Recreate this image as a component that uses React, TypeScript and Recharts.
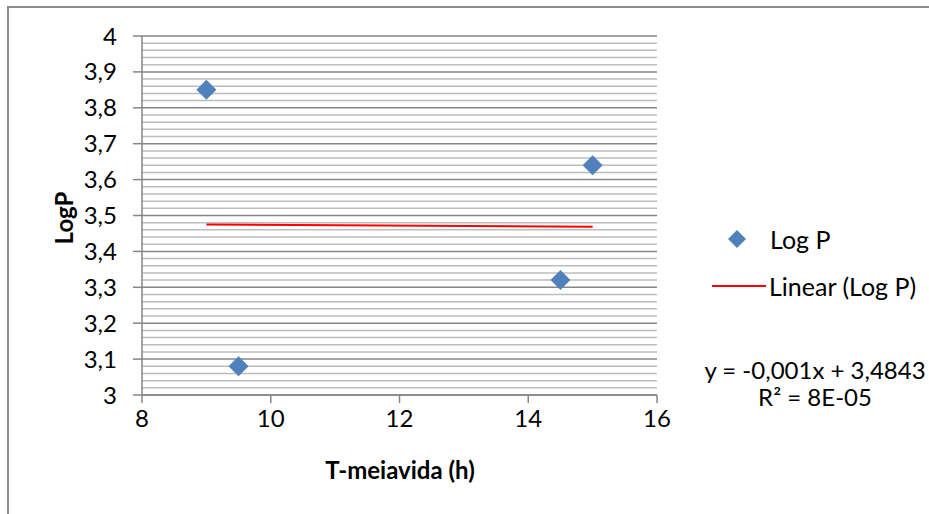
import {
  CartesianGrid,
  ComposedChart,
  Line,
  Scatter,
  XAxis,
  YAxis,
} from "recharts";

// scatter points
const halfLife = [9, 9.5, 14.5, 15];
const logP = [3.85, 3.08, 3.32, 3.64];

// trendline end points (x = 9 and x = 15)
const trendX = [9, 15];
const trendY = [3.475, 3.469];

const xTicks = [8, 10, 12, 14, 16];
const yTicks = [3, 3.1, 3.2, 3.3, 3.4, 3.5, 3.6, 3.7, 3.8, 3.9, 4];
const yMinorTicks = [
  3.02, 3.04, 3.06, 3.08, 3.12, 3.14, 3.16, 3.18, 3.22, 3.24, 3.26, 3.28,
  3.32, 3.34, 3.36, 3.38, 3.42, 3.44, 3.46, 3.48, 3.52, 3.54, 3.56, 3.58,
  3.62, 3.64, 3.66, 3.68, 3.72, 3.74, 3.76, 3.78, 3.82, 3.84, 3.86, 3.88,
  3.92, 3.94, 3.96, 3.98,
];

const FONT = "Lato, 'Open Sans', sans-serif";
const BLUE = "#4f81bd";
const AXIS = "#868686";

const points = halfLife.map((x, i) => ({ x, y: logP[i] }));
const trend = trendX.map((x, i) => ({ x, y: trendY[i] }));

const Diamond = (props: any) => {
  const { cx, cy } = props;
  const r = 10;
  return (
    <polygon
      points={`${cx},${cy - r} ${cx + r},${cy} ${cx},${cy + r} ${cx - r},${cy}`}
      fill={BLUE}
    />
  );
};

const scaleOf = (axis: any) => {
  const s = axis?.scale;
  if (typeof s === "function") return s;
  if (s && typeof s.map === "function") return (v: number) => s.map(v);
  return null;
};

const gridFor = (values: number[]) => (props: any) => {
  const scale = scaleOf(props.yAxis);
  if (scale) return values.map((v) => scale(v));
  // fallback: linear map over the plot box
  const { offset } = props;
  return values.map((v) => offset.top + ((4 - v) / 1) * offset.height);
};

export default function App() {
  return (
    <div
      style={{
        position: "absolute",
        left: 0,
        top: 0,
        width: 929,
        height: 514,
        background: "#fff",
        overflow: "hidden",
        fontFamily: FONT,
      }}
    >
      {/* chart area border */}
      <div
        style={{
          position: "absolute",
          left: 7,
          top: 6,
          width: 940,
          height: 540,
          border: "2px solid #8c8c8c",
          boxSizing: "border-box",
        }}
      />
      <ComposedChart
        width={929}
        height={514}
        margin={{ top: 36, right: 272, bottom: 0, left: 0 }}
        style={{ position: "absolute", left: 0, top: 0 }}
      >
        <CartesianGrid
          vertical={false}
          horizontalCoordinatesGenerator={gridFor(yMinorTicks)}
          stroke="#bdbdbd"
          strokeWidth={1.5}
        />
        <CartesianGrid
          vertical={false}
          horizontalCoordinatesGenerator={gridFor(yTicks)}
          stroke={AXIS}
          strokeWidth={1.5}
        />
        <XAxis
          type="number"
          dataKey="x"
          domain={[8, 16]}
          ticks={xTicks}
          height={119}
          stroke={AXIS}
          strokeWidth={1.5}
          tickSize={8}
          tickMargin={7}
          tick={{ fill: "#000", fontSize: 24, fontFamily: FONT }}
          allowDuplicatedCategory={false}
        />
        <YAxis
          type="number"
          dataKey="y"
          domain={[3, 4]}
          ticks={yTicks}
          width={142}
          stroke={AXIS}
          strokeWidth={1.5}
          tickSize={9}
          tickMargin={16}
          tickFormatter={(v: number) => String(v).replace(".", ",")}
          tick={{ fill: "#000", fontSize: 24, fontFamily: FONT }}
        />
        <Line
          data={trend}
          dataKey="y"
          type="linear"
          stroke="#ff0000"
          strokeWidth={2}
          dot={false}
          activeDot={false}
          isAnimationActive={false}
        />
        <Scatter
          data={points}
          dataKey="y"
          shape={Diamond}
          isAnimationActive={false}
        />
      </ComposedChart>

      {/* axis titles */}
      <div
        style={{
          position: "absolute",
          left: 63,
          top: 218,
          transform: "translate(-50%, -50%) rotate(-90deg)",
          fontWeight: 700,
          fontSize: 24,
          whiteSpace: "nowrap",
        }}
      >
        LogP
      </div>
      <div
        style={{
          position: "absolute",
          left: 400,
          top: 469,
          transform: "translate(-50%, -50%)",
          fontWeight: 700,
          fontSize: 24,
          whiteSpace: "nowrap",
        }}
      >
        T-meiavida (h)
      </div>

      {/* legend */}
      <svg
        width={70}
        height={80}
        style={{ position: "absolute", left: 700, top: 225 }}
      >
        <polygon points="37,5 46,14 37,23 28,14" fill={BLUE} />
        <line x1={12} y1={61} x2={66} y2={61} stroke="#ff0000" strokeWidth={2} />
      </svg>
      <div
        style={{
          position: "absolute",
          left: 770,
          top: 239,
          transform: "translateY(-50%)",
          fontSize: 25,
          whiteSpace: "nowrap",
        }}
      >
        Log P
      </div>
      <div
        style={{
          position: "absolute",
          left: 769,
          top: 286,
          transform: "translateY(-50%)",
          fontSize: 25,
          whiteSpace: "nowrap",
        }}
      >
        Linear (Log P)
      </div>

      {/* trendline equation */}
      <div
        style={{
          position: "absolute",
          left: 815,
          top: 383,
          transform: "translate(-50%, -50%)",
          fontSize: 24,
          lineHeight: "27px",
          textAlign: "center",
          whiteSpace: "nowrap",
        }}
      >
        y = -0,001x + 3,4843
        <br />
        R² = 8E-05
      </div>
    </div>
  );
}
